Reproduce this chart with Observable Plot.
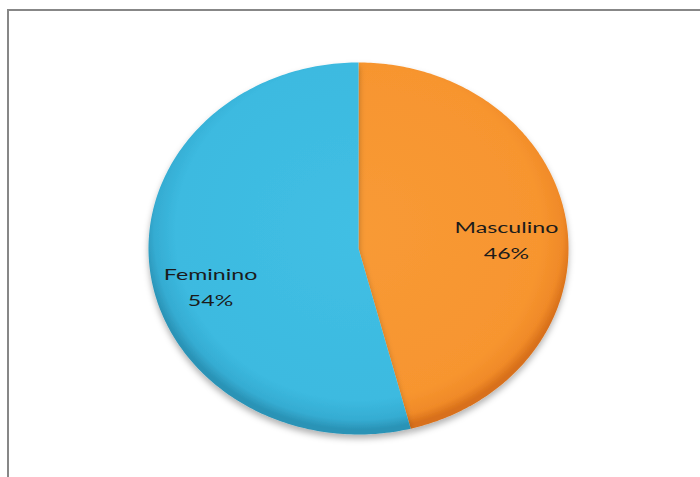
<!DOCTYPE html>
<html>
<head>
<meta charset="utf-8">
<script src="https://cdn.jsdelivr.net/npm/d3@7"></script>
<script src="https://cdn.jsdelivr.net/npm/@observablehq/plot@0.6"></script>
<style>
  html, body { margin: 0; padding: 0; background: #fff; overflow: hidden; }
  #wrap { position: relative; width: 700px; height: 477px; }
  #frame { position: absolute; left: 7px; top: 9px; width: 720px; height: 500px;
           border-left: 2px solid #878787; border-top: 2px solid #878787; pointer-events: none; }
</style>
</head>
<body>
<div id="wrap"><div id="frame"></div></div>
<script>
const categories = ["Masculino", "Feminino"];
const percents = [46, 54];
const labels = ["46%", "54%"];

const gradIds = ["gM", "gF"];
const pie = d3.pie().sort(null).value(d => d)(percents);

// slice outlines (unit circle, angle clockwise from top) from pie angles
const slices = pie.map((a, i) => {
  const n = 200;
  const pts = [{x: 0, y: 0}];
  for (let j = 0; j <= n; j++) {
    const t = a.startAngle + (a.endAngle - a.startAngle) * j / n;
    pts.push({x: Math.sin(t), y: Math.cos(t)});
  }
  pts.push({x: 0, y: 0});
  return pts;
});

const yShift = [-0.03, -0.105];
const labelData = pie.map((a, i) => {
  const m = (a.startAngle + a.endAngle) / 2;
  const r = 0.71;
  return {x: r * Math.sin(m), y: r * Math.cos(m) + yShift[i], text: categories[i] + "\n" + labels[i]};
});

const chart = Plot.plot({
  width: 700,
  height: 477,
  margin: 0,
  x: {domain: [-1, 1], range: [148, 568], axis: null},
  y: {domain: [-1, 1], range: [434, 62], axis: null},
  style: {background: "transparent"},
  marks: [
    ...slices.map((s, i) => Plot.line(s, {x: "x", y: "y", fill: `url(#${gradIds[i]})`, stroke: "none", curve: "linear"})),
    Plot.text(labelData, {x: "x", y: "y", text: "text", fontSize: 16, lineHeight: 1.65, fill: "#1b1b1b", fontFamily: "Lato, 'Open Sans', sans-serif"})
  ]
});

const ns = "http://www.w3.org/2000/svg";
const defs = document.createElementNS(ns, "defs");
defs.innerHTML = `
  <radialGradient id="gM" gradientUnits="userSpaceOnUse" cx="358" cy="230" r="215" gradientTransform="translate(358 248) scale(1 0.92) translate(-358 -248)">
    <stop offset="0" stop-color="#f89a36"/>
    <stop offset="0.85" stop-color="#f7952f"/>
    <stop offset="0.95" stop-color="#f08a28"/>
    <stop offset="1" stop-color="#d8701a"/>
  </radialGradient>
  <radialGradient id="gF" gradientUnits="userSpaceOnUse" cx="358" cy="230" r="215" gradientTransform="translate(358 248) scale(1 0.92) translate(-358 -248)">
    <stop offset="0" stop-color="#41bfe4"/>
    <stop offset="0.85" stop-color="#3cbae0"/>
    <stop offset="0.95" stop-color="#35acd2"/>
    <stop offset="1" stop-color="#2a93b6"/>
  </radialGradient>
  <filter id="sh" x="-10%" y="-10%" width="120%" height="125%">
    <feDropShadow dx="0" dy="4" stdDeviation="3" flood-color="#000" flood-opacity="0.3"/>
  </filter>`;
chart.insertBefore(defs, chart.firstChild);
chart.querySelectorAll("g[aria-label='line']").forEach(g => g.setAttribute("filter", "url(#sh)"));
// the reference's text is horizontally stretched
chart.querySelectorAll("g[aria-label='text'] text").forEach(t => {
  t.setAttribute("transform", (t.getAttribute("transform") || "") + " scale(1.45,1)");
});
chart.style.position = "absolute";
chart.style.left = "0";
chart.style.top = "0";
document.getElementById("wrap").appendChild(chart);
</script>
</body>
</html>
